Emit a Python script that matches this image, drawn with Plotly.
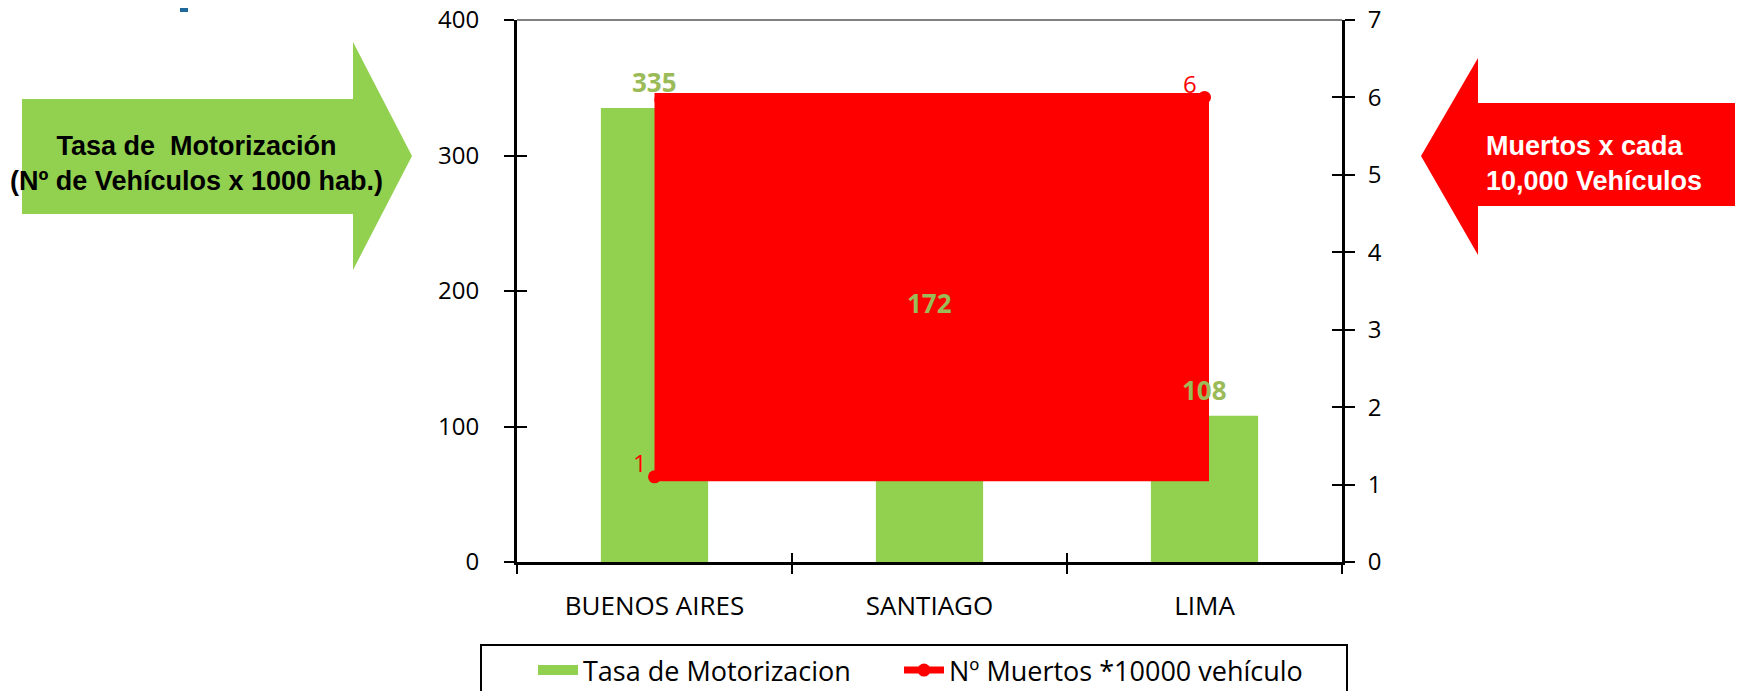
import plotly.graph_objects as go

# ---- data ----
categories = ["BUENOS AIRES", "SANTIAGO", "LIMA"]
motorizacion = [335, 172, 108]          # vehículos x 1000 hab.
muertos = [1.1, 3.2, 6.0]               # muertos x 10000 vehículos (Santiago hidden in picture, estimated)
bar_name = "Tasa de Motorizacion"
line_name = "Nº Muertos *10000 vehículo"
left_ticks = [0, 100, 200, 300, 400]
right_ticks = [0, 1, 2, 3, 4, 5, 6, 7]

GREEN = "#92D050"
LABEL_GREEN = "#9BBB59"
RED = "#FF0000"
FONT = "Open Sans"

OFF = 8  # page body margin of the browser
W, H = 1743 - OFF, 691 - OFF
# plot area in the reference picture (pixels)
REF_L, REF_T, REF_R, REF_B = 517, 20, 1342, 562
pw, ph = REF_R - REF_L, REF_B - REF_T
L, T = REF_L - OFF, REF_T - OFF
R, B = W - L - pw, H - T - ph

def px_x(x):
    return (x - REF_L) / pw

def px_y(y):
    return (REF_B - y) / ph

fig = go.Figure()

fig.add_trace(go.Bar(
    x=categories, y=motorizacion, name=bar_name,
    marker=dict(color=GREEN, line=dict(width=0)), width=0.39,
    hoverinfo="skip", showlegend=False, legendgroup="bar",
))
# legend entry for the bars drawn as a wide swatch
fig.add_trace(go.Scatter(
    x=[categories[0]], y=[None], name=bar_name, mode="lines",
    line=dict(color=GREEN, width=15), legend="legend", legendgroup="bar",
    hoverinfo="skip",
))

# the red series is rendered as a solid block spanning its points' extent
lo, hi = min(muertos), max(muertos)
fig.add_trace(go.Scatter(
    x=[categories[0], categories[-1], categories[-1], categories[0]],
    y=[lo, lo, hi, hi],
    yaxis="y2", mode="lines", fill="toself", fillcolor=RED,
    line=dict(color=RED, width=9), showlegend=False, hoverinfo="skip",
))

fig.add_trace(go.Scatter(
    x=categories, y=muertos, name=line_name, yaxis="y2",
    mode="lines+markers",
    line=dict(color=RED, width=7),
    marker=dict(color=RED, size=13),
    hoverinfo="skip", legend="legend2",
))

# invisible anchors so the cross-tick overlay axes get drawn
fig.add_trace(go.Scatter(x=[categories[0]], y=[0], xaxis="x2", yaxis="y3",
                         mode="markers", marker=dict(opacity=0),
                         showlegend=False, hoverinfo="skip"))
fig.add_trace(go.Scatter(x=[categories[0]], y=[0], xaxis="x2", yaxis="y4",
                         mode="markers", marker=dict(opacity=0),
                         showlegend=False, hoverinfo="skip"))

annotations = []
# red labels: only the end points are visible (the middle one is covered)
for i in (0, len(categories) - 1):
    annotations.append(dict(
        x=categories[i], y=muertos[i], xref="x", yref="y2",
        text=f"{muertos[i]:.0f}", showarrow=False,
        xanchor="center", yanchor="middle", xshift=-15, yshift=14,
        font=dict(color=RED, size=24, family=FONT),
    ))
for c, v in zip(categories, motorizacion):
    annotations.append(dict(
        x=c, y=v, xref="x", yref="y", text=f"<b>{v}</b>", showarrow=False,
        xanchor="center", yanchor="bottom", yshift=6,
        font=dict(color=LABEL_GREEN, size=26, family=FONT),
    ))

# side arrows with captions
annotations.append(dict(
    x=px_x(196), y=px_y(163), xref="paper", yref="paper",
    xanchor="center", yanchor="middle",
    text="<b>Tasa de  Motorización</b><br><b>(Nº de Vehículos x 1000 hab.)</b>",
    showarrow=False, font=dict(color="black", size=27, family="Liberation Sans"),
))
annotations.append(dict(
    x=px_x(1484), y=px_y(163), xref="paper", yref="paper",
    xanchor="left", yanchor="middle", align="left",
    text="<b>Muertos x cada</b><br><b>10,000 Vehículos</b>",
    showarrow=False, font=dict(color="white", size=27, family="Liberation Sans"),
))

def poly(points):
    return "M " + " L ".join(f"{px_x(x)},{px_y(y)}" for x, y in points) + " Z"

shapes = [
    # top border of plot
    dict(type="line", xref="paper", yref="paper", x0=0, x1=1, y0=1, y1=1,
         line=dict(color="#808080", width=2), layer="below"),
    # green arrow (right-pointing)
    dict(type="path", xref="paper", yref="paper",
         path=poly([(22, 99), (353, 99), (353, 42), (412, 156), (353, 270),
                    (353, 214), (22, 214)]),
         fillcolor=GREEN, line=dict(width=0), layer="below"),
    # red arrow (left-pointing)
    dict(type="path", xref="paper", yref="paper",
         path=poly([(1760, 103), (1478, 103), (1478, 58), (1421, 156),
                    (1478, 255), (1478, 206), (1760, 206)]),
         fillcolor=RED, line=dict(width=0), layer="below"),
    # blue fragment at top (only its lower end is inside the page)
    dict(type="rect", xref="paper", yref="paper",
         x0=px_x(180), x1=px_x(188), y0=px_y(12), y1=px_y(-10),
         fillcolor="#1F6A9A", line=dict(width=0), layer="below"),
    # legend frame
    dict(type="rect", xref="paper", yref="paper",
         x0=px_x(481), x1=px_x(1347), y0=px_y(710), y1=px_y(645),
         fillcolor="rgba(0,0,0,0)", line=dict(color="black", width=2)),
]

legend_common = dict(
    orientation="h", xref="container", yref="container",
    y=1 - 638 / H, xanchor="left", yanchor="top",
    font=dict(size=27, family=FONT), bgcolor="rgba(0,0,0,0)",
    itemwidth=40, borderwidth=0,
)

fig.update_layout(
    width=W, height=H,
    margin=dict(l=L, r=R, t=T, b=B, pad=0, autoexpand=False),
    paper_bgcolor="white", plot_bgcolor="white",
    font=dict(family=FONT, color="black", size=24),
    showlegend=True,
    legend=dict(x=525 / W, **legend_common),
    legend2=dict(x=891 / W, **legend_common),
    xaxis=dict(
        type="category", categoryarray=categories, range=[-0.5, 2.5],
        showline=True, linecolor="black", linewidth=3, ticks="outside",
        tickson="boundaries", ticklen=9, tickwidth=2, tickcolor="black",
        showgrid=False, tickfont=dict(size=26), ticklabelstandoff=19,
        zeroline=False,
    ),
    xaxis2=dict(
        type="category", categoryarray=categories, range=[-0.5, 2.5],
        overlaying="x", side="bottom", showline=False, ticks="inside",
        tickson="boundaries", ticklen=9, tickwidth=2, tickcolor="black",
        showticklabels=False, showgrid=False, zeroline=False,
    ),
    yaxis=dict(
        range=[0, 400], tickvals=left_ticks, showline=True, linecolor="black",
        linewidth=3, ticks="outside", ticklen=10, tickwidth=2, tickcolor="black",
        showgrid=False, zeroline=False, tickfont=dict(size=24),
        ticklabelstandoff=20, ticklabeloverflow="allow",
    ),
    yaxis2=dict(
        range=[0, 7], tickvals=right_ticks, overlaying="y", side="right",
        showline=True, linecolor="black", linewidth=3, ticks="outside",
        ticklen=10, tickwidth=2, tickcolor="black", showgrid=False,
        zeroline=False, tickfont=dict(size=24), ticklabelstandoff=8,
        ticklabeloverflow="allow",
    ),
    yaxis3=dict(
        range=[0, 400], tickvals=left_ticks, overlaying="y", side="left",
        anchor="x2", showline=False, ticks="inside", ticklen=10, tickwidth=2,
        tickcolor="black", showticklabels=False, showgrid=False, zeroline=False,
    ),
    yaxis4=dict(
        range=[0, 7], tickvals=right_ticks, overlaying="y", side="right",
        anchor="x2", showline=False, ticks="inside", ticklen=10, tickwidth=2,
        tickcolor="black", showticklabels=False, showgrid=False, zeroline=False,
    ),
    annotations=annotations,
    shapes=shapes,
)

fig.write_html("out.html")
